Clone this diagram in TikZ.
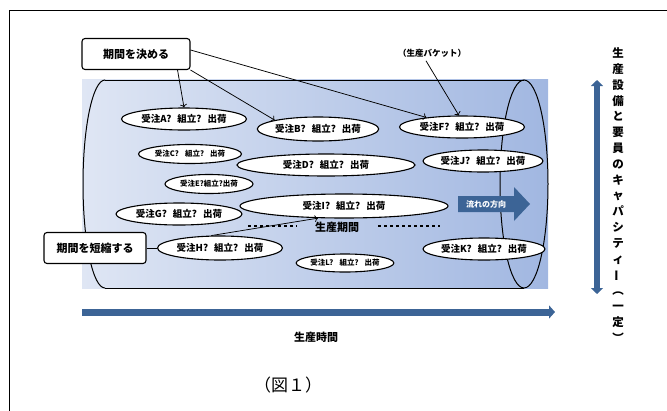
\documentclass[tikz,border=0pt]{standalone}
\usepackage{fontspec}
\usepackage{graphicx}
\newfontfamily\jp{Noto Sans CJK JP}
\usetikzlibrary{shapes.geometric,arrows.meta}
\definecolor{flowblue}{HTML}{3C6496}
\definecolor{binlight}{HTML}{DFE6F4}
\definecolor{bindark}{HTML}{A1B7E1}

\tikzset{every picture/.style={line width=0.75pt}}
\tikzset{
  pkt/.style={ellipse, draw, fill=white, line width=1.1pt, inner sep=0pt,
    minimum height=22pt, font=\jp\bfseries\fontsize{9.5}{10}\selectfont},
  pktsmall/.style={pkt, minimum height=19pt, font=\jp\bfseries\fontsize{7.5}{8}\selectfont},
  notebox/.style={draw, fill=white, rounded corners=3pt, line width=1.1pt,
    minimum height=31pt, font=\jp\bfseries\fontsize{11}{12}\selectfont},
  lbl/.style={font=\jp\bfseries\fontsize{11}{12}\selectfont},
  bigarrow/.style={flowblue, line width=7pt}
}
\newcommand\gap{\hspace{6pt}}

\begin{document}
\begin{tikzpicture}[x=1pt,y=-1pt]
        \useasboundingbox (0,0) rectangle (667,410);
        \draw[line width=1pt] (9,411) -- (9,10) -- (668,10);
        % cylinder
        \shade[left color=binlight, right color=bindark] (82,79) rectangle (548,288);
        \begin{scope}
          \clip (60,70) rectangle (105,300);
          \draw[line width=1pt] (105,184) ellipse [x radius=22, y radius=104];
        \end{scope}
        \draw[line width=1pt] (105,80) -- (524,80) (105,288) -- (524,288);
        \draw[line width=1pt] (524,184) ellipse [x radius=24, y radius=104];
        \node[font=\jp\bfseries\fontsize{8.5}{9}\selectfont] (bucket) at (432,53) {（生産バケット）};
        % packets
        \node[pkt, minimum width=125pt] (pA) at (184,119) {受注A?\gap 組立?\gap 出荷};
        \node[pkt, minimum width=113pt, minimum height=24pt] (pB) at (318,129) {受注B?\gap 組立?\gap 出荷};
        \node[pkt, minimum width=125pt] (pF) at (462,127) {受注F?\gap 組立?\gap 出荷};
        \node[pktsmall, minimum width=103pt] (pC) at (190,154) {受注C?\gap 組立?\gap 出荷};
        \node[pkt, minimum width=178pt] (pD) at (326,165) {受注D?\gap 組立?\gap 出荷};
        \node[pkt, minimum width=120pt] (pJ) at (483,161) {受注J?\gap 組立?\gap 出荷};
        \node[pktsmall, minimum width=88pt] (pE) at (209,184) {受注E?組立?出荷};
        \node[pkt, minimum width=126pt] (pG) at (179,214) {受注G?\gap 組立?\gap 出荷};
        \node[pkt, minimum width=208pt, minimum height=24pt] (pI) at (344,206) {受注I?\gap 組立?\gap 出荷};
        \node[pkt, minimum width=125pt, minimum height=24pt] (pH) at (220,248) {受注H?\gap 組立?\gap 出荷};
        \node[pkt, minimum width=122pt] (pK) at (484,249) {受注K?\gap 組立?\gap 出荷};
        \node[pktsmall, minimum width=86pt, minimum height=18pt] (pL) at (345,263) {受注L?\gap 組立?\gap 出荷};
        % period
        \node[lbl] (period) at (337,227) {生産期間};
        \draw[dashed, line width=1.2pt] (248,226) -- (297,226);
        \draw[dashed, line width=1.2pt] (378,226) -- (440,226);
        % flow arrow
        \fill[flowblue] (458,196) -- (514,196) -- (514,187) -- (530,204) -- (514,221) -- (514,212) -- (458,212) -- cycle;
        \node[font=\jp\bfseries\fontsize{8}{9}\selectfont, text=white] (flow) at (486,204) {流れの方向};
        % notes
        \node[notebox, minimum width=108pt] (decide) at (136,54) {期間を決める};
        \node[notebox, minimum width=102pt] (shorten) at (95,248) {期間を短縮する};
        \draw[->] ([xshift=-13]decide.south east) -- (pA.north);
        \draw[->] (decide.south east) -- (pB.north west);
        \draw[->] ([yshift=4]decide.east) -- (pF.165);
        \draw[->] ([xshift=-6]bucket.south) -- (pF.105);
        \draw (shorten.east) -- (pH.west);
        \draw[->] (pH.125) -- (pI.205);
        % axes
        \draw[bigarrow, -{Triangle[length=6pt, width=13pt]}] (82,312) -- (555,312);
        \node[lbl] (time) at (316,337) {生産時間};
        \draw[bigarrow, line width=6pt, {Triangle[length=6pt, width=12pt]}-{Triangle[length=6pt, width=12pt]}] (597,80) -- (597,294);
        \node[font=\jp\bfseries\fontsize{11.5}{15.8}\selectfont, align=center, inner sep=0pt] (capacity) at (618,195)
          {生\\産\\設\\備\\と\\要\\員\\の\\キ\\ャ\\パ\\シ\\テ\\ィ\\\rotatebox[origin=c]{90}{ー}\\︵\\一\\定\\︶};
        \node[font=\jp\fontsize{17}{20}\selectfont] (fig) at (288,385) {（図１）};
    \end{tikzpicture}
\end{document}
